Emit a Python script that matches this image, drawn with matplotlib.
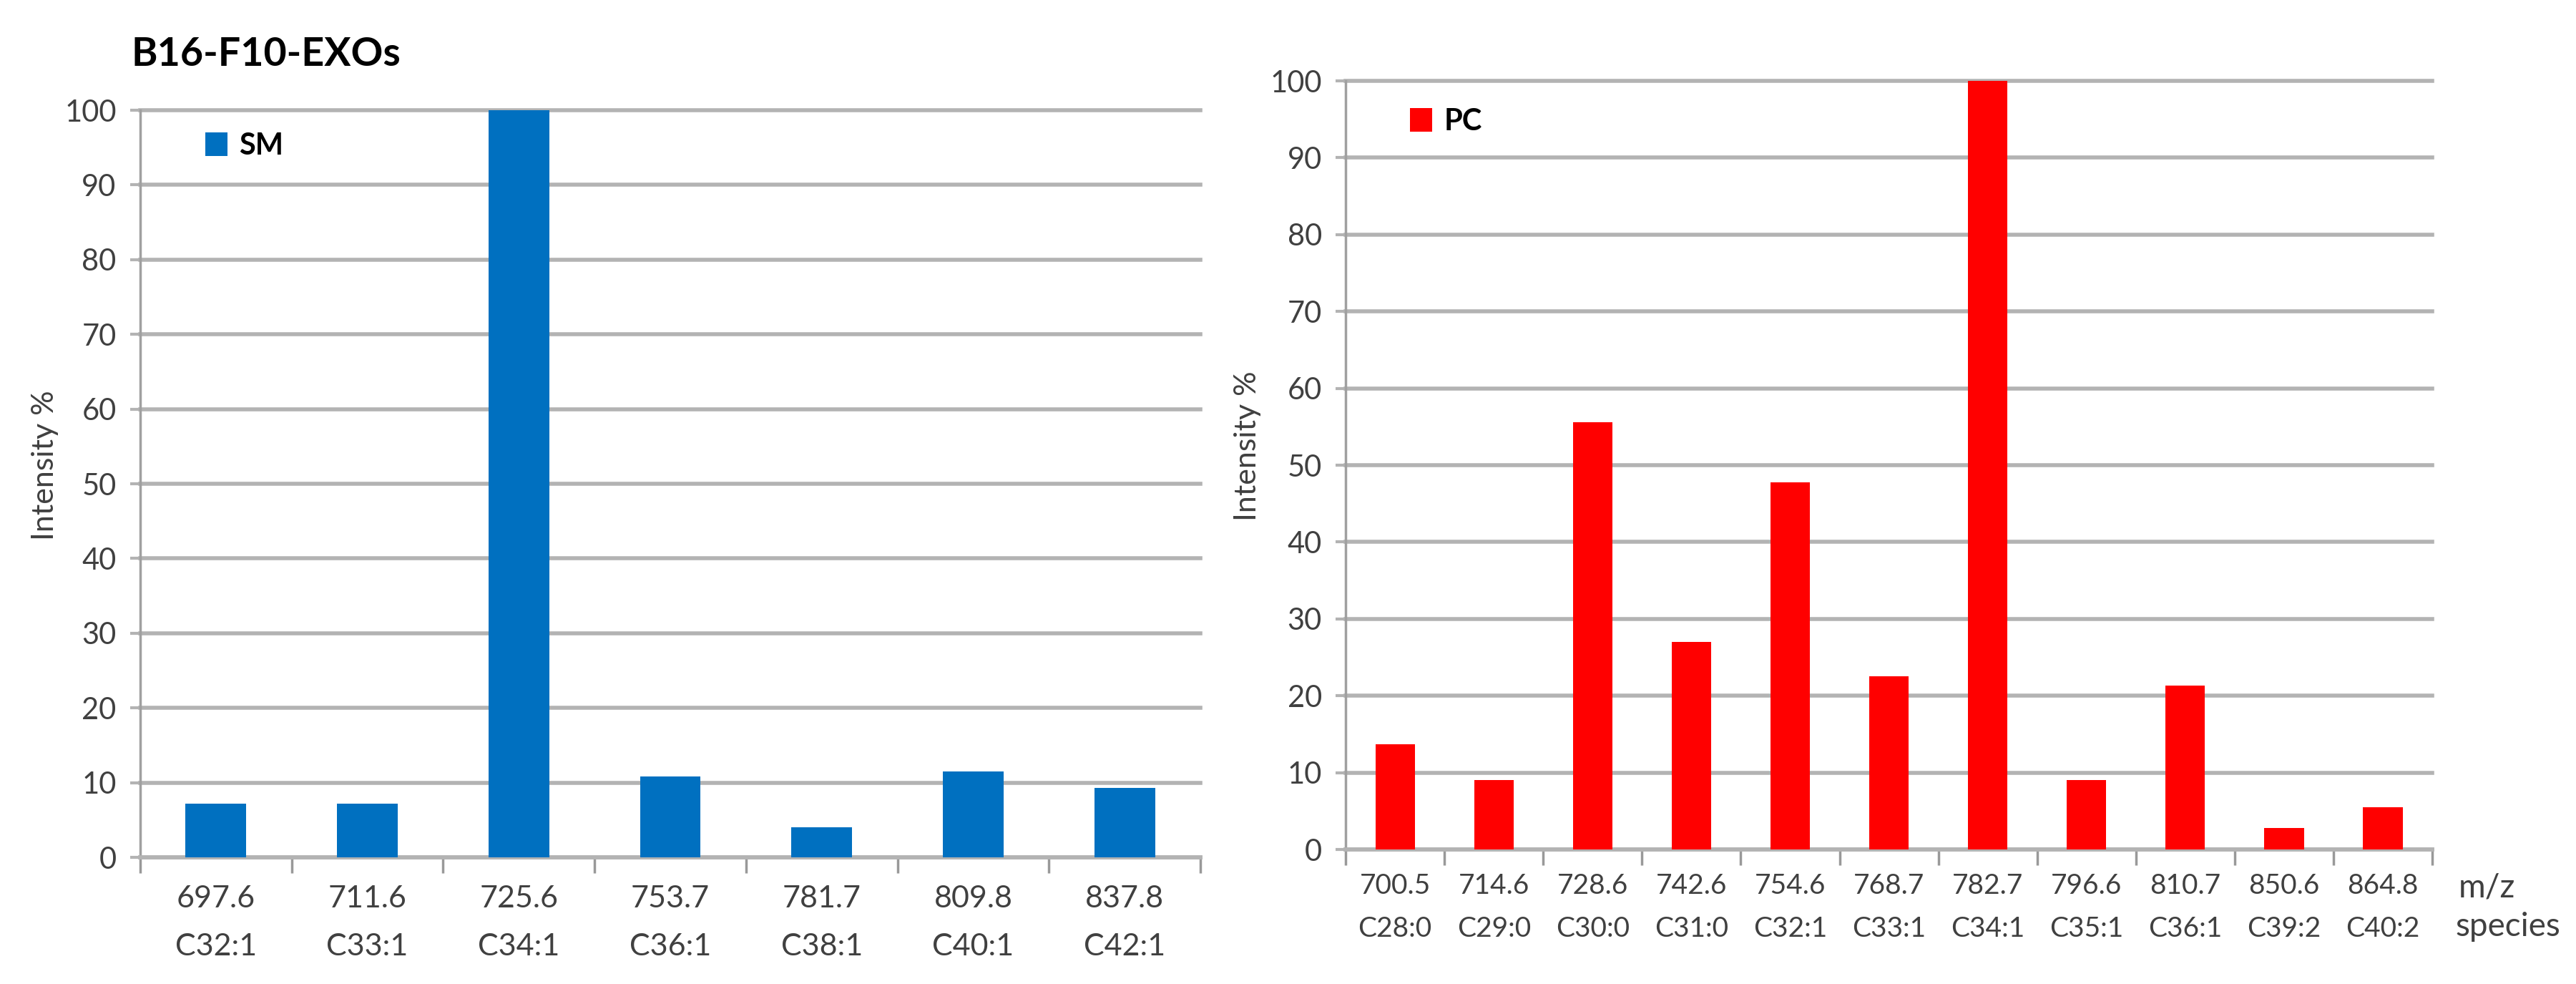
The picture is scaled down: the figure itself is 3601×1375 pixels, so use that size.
import numpy as np
import matplotlib
matplotlib.use("Agg")
from matplotlib import pyplot as plt

plt.rcParams['font.family'] = ['Lato', 'DejaVu Sans']

# SM panel (B16-F10-EXOs)
sm_mz = ['697.6', '711.6', '725.6', '753.7', '781.7', '809.8', '837.8']
sm_species = ['C32:1', 'C33:1', 'C34:1', 'C36:1', 'C38:1', 'C40:1', 'C42:1']
sm_intensity = [7.2, 7.2, 100, 10.8, 4.0, 11.5, 9.3]

# PC panel
pc_mz = ['700.5', '714.6', '728.6', '742.6', '754.6', '768.7', '782.7',
         '796.6', '810.7', '850.6', '864.8']
pc_species = ['C28:0', 'C29:0', 'C30:0', 'C31:0', 'C32:1', 'C33:1', 'C34:1',
              'C35:1', 'C36:1', 'C39:2', 'C40:2']
pc_intensity = [13.7, 9.0, 55.6, 27.0, 47.8, 22.5, 100, 9.0, 21.3, 2.8, 5.5]

yticks = np.arange(0, 101, 10)
grid_col = '#b3b3b3'
text_col = '#404040'

fig = plt.figure(figsize=(36.01, 13.75), dpi=100)
ax1 = fig.add_axes([0.0544, 0.1287, 0.4116, 0.7593])
ax2 = fig.add_axes([0.5224, 0.1367, 0.4218, 0.7811])


def style_panel(ax, mz, species, values, color, name, tick_size, pad1, pad2, leg_xy):
    x = np.arange(len(values))
    ax.bar(x, values, width=0.4, color=color, label=name, zorder=3)
    ax.set_xlim(-0.5, len(values) - 0.5)
    ax.set_ylim(0, 100)
    ax.set_yticks(yticks)
    ax.set_yticklabels([str(v) for v in yticks], fontsize=30, color=text_col)
    ax.set_axisbelow(True)
    ax.yaxis.grid(True, color=grid_col, linewidth=4)
    for gl in ax.get_ygridlines():
        gl.set_clip_on(False)
    ax.tick_params(axis='y', length=10, width=3, color=grid_col, pad=14)
    # first label row: m/z
    ax.set_xticks(x)
    ax.set_xticklabels(mz, fontsize=tick_size, color=text_col)
    ax.tick_params(axis='x', which='major', length=0, pad=pad1)
    # boundary tick marks between categories
    ax.set_xticks(np.arange(len(values) + 1) - 0.5, minor=True)
    ax.tick_params(axis='x', which='minor', length=16, width=2.5,
                   color='#999999', direction='out')
    # second label row: species
    sec = ax.secondary_xaxis('bottom')
    sec.set_xticks(x)
    sec.set_xticklabels(species, fontsize=tick_size, color=text_col)
    sec.tick_params(axis='x', length=0, pad=pad2)
    sec.spines['bottom'].set_visible(False)
    for side in ['top', 'right']:
        ax.spines[side].set_visible(False)
    ax.spines['left'].set_color('#a0a0a0')
    ax.spines['left'].set_linewidth(2.5)
    ax.spines['bottom'].set_color(grid_col)
    ax.spines['bottom'].set_linewidth(4)
    ax.set_ylabel('Intensity %', fontsize=31, color=text_col)
    ax.legend(loc='center left', bbox_to_anchor=leg_xy, frameon=False,
              handlelength=0.75, handleheight=0.85, handletextpad=0.4,
              prop={'size': 30, 'weight': 'bold'}, borderaxespad=0)


style_panel(ax1, sm_mz, sm_species, sm_intensity, '#0070C0', 'SM', 31, 28, 76, (0.05, 0.952))
style_panel(ax2, pc_mz, pc_species, pc_intensity, '#FF0000', 'PC', 28, 24, 67, (0.048, 0.947))

ax1.yaxis.set_label_coords(-0.077, 0.525)
ax2.yaxis.set_label_coords(-0.078, 0.525)

fig.text(0.051, 0.945, 'B16-F10-EXOs', fontsize=40, fontweight='bold',
         ha='left', va='center', color='black')
fig.text(0.9655, 0.098, 'm/z', fontsize=33, ha='center', va='center', color=text_col)
fig.text(0.9735, 0.058, 'species', fontsize=33, ha='center', va='center', color=text_col)

plt.savefig('out.png', dpi=100)
print("Saved to out.png")
